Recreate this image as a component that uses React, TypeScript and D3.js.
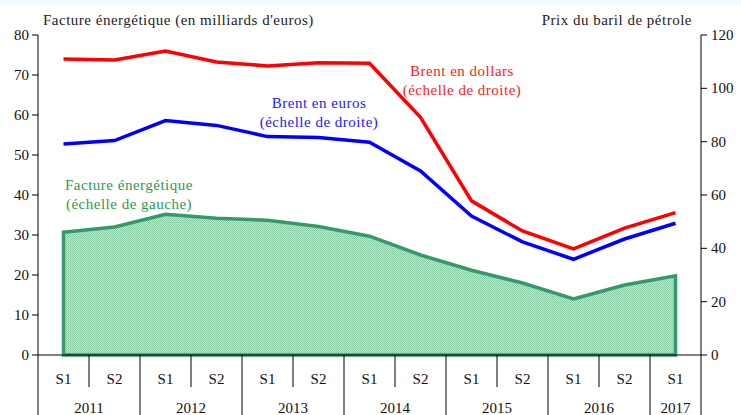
import React from "react";
import * as d3 from "d3";

const periods = ["2011S1","2011S2","2012S1","2012S2","2013S1","2013S2","2014S1","2014S2","2015S1","2015S2","2016S1","2016S2","2017S1"];
const halfLabels = ["S1","S2","S1","S2","S1","S2","S1","S2","S1","S2","S1","S2","S1"];
const years = ["2011","2012","2013","2014","2015","2016","2017"];
const energyBill = [30.7, 32.0, 35.2, 34.2, 33.7, 32.1, 29.7, 25.0, 21.2, 18.0, 14.0, 17.5, 19.8];
const brentUsd = [111.0, 110.6, 114.0, 109.9, 108.4, 109.6, 109.4, 89.1, 57.8, 46.5, 39.8, 47.6, 53.4];
const brentEur = [79.1, 80.4, 87.9, 86.1, 81.9, 81.6, 79.8, 69.0, 52.1, 42.4, 35.9, 43.5, 49.4];
const leftTicks = [0, 10, 20, 30, 40, 50, 60, 70, 80];
const rightTicks = [0, 20, 40, 60, 80, 100, 120];

const W = 741, H = 415;
const L = 38, R = 701, T = 35, B = 355;
const FONT = "'Liberation Serif', 'Times New Roman', Times, serif";
const ts = { fontFamily: FONT } as React.CSSProperties;
const ls = { fontFamily: FONT, letterSpacing: "0.5px" } as React.CSSProperties;

export default function App() {
  const x = d3.scaleBand<string>().domain(periods).range([L, R]);
  const cx = (i: number) => (x(periods[i]) as number) + x.bandwidth() / 2;
  const yL = d3.scaleLinear().domain([0, 80]).range([B, T]);
  const yR = d3.scaleLinear().domain([0, 120]).range([B, T]);

  const area = d3.area<number>().x((_, i) => cx(i)).y0(yL(0)).y1((d) => yL(d));
  const lineR = d3.line<number>().x((_, i) => cx(i)).y((d) => yR(d));

  const yearStarts: number[] = [];
  periods.forEach((p, i) => { if (p.endsWith("S1")) yearStarts.push(i); });

  const bw = x.bandwidth();

  return (
    <svg width={W} height={H} style={{ position: "absolute", left: 0, top: 0, background: "#fff" }}>
      <defs>
        <pattern id="dots" width="2" height="2" patternUnits="userSpaceOnUse">
          <rect width="2" height="2" fill="#c4e6d0" />
          <rect width="1" height="1" fill="#7fc29c" />
          <rect x="1" y="1" width="1" height="1" fill="#97cfae" />
        </pattern>
      </defs>
      <rect x={0} y={0} width={W} height={5} fill="#effcfd" />

      {/* titles */}
      <text x={43} y={25} fontSize={15} fill="#222" style={ls}>Facture énergétique (en milliards d'euros)</text>
      <text x={692} y={25} fontSize={15} fill="#222" textAnchor="end" style={ls}>Prix du baril de pétrole</text>

      {/* area */}
      <path d={(area(energyBill) as string) + "Z"} fill="url(#dots)" stroke="#35996a" strokeWidth={3.5} strokeLinejoin="miter" />

      {/* lines */}
      <path d={lineR(brentEur) as string} fill="none" stroke="#0000ff" strokeWidth={3.5} />
      <path d={lineR(brentUsd) as string} fill="none" stroke="#ff0000" strokeWidth={3.5} />

      {/* left axis */}
      <line x1={L} x2={L} y1={T} y2={H} stroke="#000" strokeWidth={1} />
      {leftTicks.map((t) => (
        <g key={"l" + t}>
          <line x1={L - 6} x2={L} y1={yL(t)} y2={yL(t)} stroke="#000" />
          <text x={L - 9} y={yL(t) + 5} fontSize={15} textAnchor="end" fill="#111" style={ts}>{t}</text>
        </g>
      ))}

      {/* right axis */}
      <line x1={R} x2={R} y1={T} y2={H} stroke="#000" strokeWidth={1} />
      {rightTicks.map((t) => (
        <g key={"r" + t}>
          <line x1={R} x2={R + 6} y1={yR(t)} y2={yR(t)} stroke="#000" />
          <text x={R + 10} y={yR(t) + 5} fontSize={15} textAnchor="start" fill="#111" style={ts}>{t}</text>
        </g>
      ))}

      {/* x axis */}
      <line x1={L} x2={R} y1={B} y2={B} stroke="#000" />
      {periods.map((p, i) => {
        const x0 = x(p) as number;
        const isYearStart = p.endsWith("S1");
        return (
          <g key={p}>
            {i > 0 && (
              <line x1={x0} x2={x0} y1={B} y2={isYearStart ? H : B + 32} stroke="#000" />
            )}
            <text x={x0 + bw / 2} y={B + 29} fontSize={15} textAnchor="middle" fill="#111" style={ts}>{halfLabels[i]}</text>
          </g>
        );
      })}
      {yearStarts.map((s, k) => {
        const e = Math.min(s + 1, periods.length - 1);
        const xs = x(periods[s]) as number;
        const xe = (x(periods[e]) as number) + bw;
        return (
          <text key={years[k]} x={(xs + xe) / 2} y={B + 58} fontSize={15} textAnchor="middle" fill="#111" style={ts}>{years[k]}</text>
        );
      })}

      {/* annotations */}
      <text x={462} y={76} fontSize={15} textAnchor="middle" fill="#ff2020" style={ls}>Brent en dollars</text>
      <text x={462} y={95} fontSize={15} textAnchor="middle" fill="#ff2020" style={ls}>(échelle de droite)</text>
      <text x={319} y={108} fontSize={15} textAnchor="middle" fill="#2020ff" style={ls}>Brent en euros</text>
      <text x={319} y={127} fontSize={15} textAnchor="middle" fill="#2020ff" style={ls}>(échelle de droite)</text>
      <text x={129} y={190} fontSize={15} textAnchor="middle" fill="#2e9a50" style={ls}>Facture énergétique</text>
      <text x={129} y={209} fontSize={15} textAnchor="middle" fill="#2e9a50" style={ls}>(échelle de gauche)</text>
    </svg>
  );
}
